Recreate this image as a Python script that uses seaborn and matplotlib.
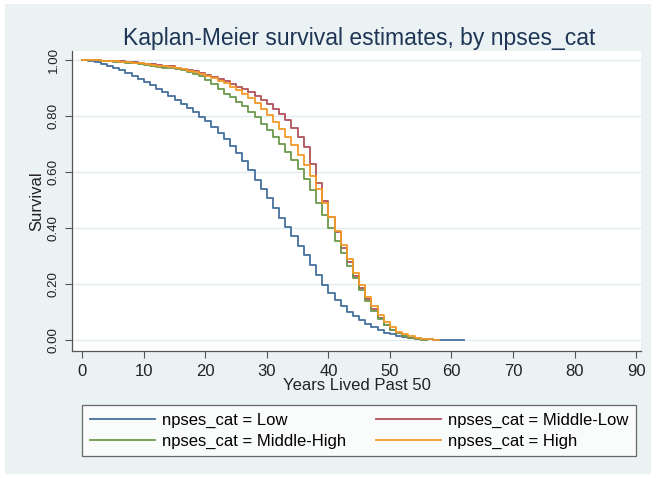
import pandas as pd
import matplotlib
matplotlib.use("Agg")
import matplotlib.pyplot as plt
import seaborn as sns
from matplotlib.patches import Rectangle

# valores (supervivencia al inicio de cada año)
low = [1.000, 0.998, 0.993, 0.987, 0.980, 0.972, 0.963, 0.954, 0.944, 0.933,
       0.921, 0.910, 0.898, 0.885, 0.872, 0.858, 0.844, 0.829, 0.814, 0.798,
       0.781, 0.762, 0.741, 0.718, 0.693, 0.667, 0.638, 0.606, 0.573, 0.540,
       0.506, 0.472, 0.437, 0.402, 0.370, 0.337, 0.302, 0.267, 0.232, 0.198,
       0.168, 0.142, 0.120, 0.100, 0.085, 0.070, 0.056, 0.045, 0.035, 0.027,
       0.020, 0.015, 0.011, 0.008, 0.006, 0.004, 0.003, 0.002, 0.0015, 0.001,
       0.001, 0.0005, 0.000]
middle_low = [1.000, 1.000, 0.999, 0.998, 0.997, 0.996, 0.995, 0.993, 0.991, 0.989,
              0.987, 0.985, 0.983, 0.980, 0.977, 0.973, 0.969, 0.965, 0.960, 0.954,
              0.947, 0.940, 0.932, 0.924, 0.915, 0.905, 0.895, 0.884, 0.872, 0.858,
              0.843, 0.826, 0.806, 0.784, 0.757, 0.726, 0.690, 0.630, 0.560, 0.495,
              0.440, 0.385, 0.330, 0.280, 0.230, 0.185, 0.145, 0.110, 0.080, 0.055,
              0.037, 0.024, 0.015, 0.008, 0.004, 0.002, 0.000]
middle_high = [1.000, 1.000, 0.999, 0.998, 0.996, 0.994, 0.992, 0.990, 0.988, 0.985,
               0.982, 0.979, 0.976, 0.973, 0.970, 0.967, 0.963, 0.958, 0.951, 0.942,
               0.930, 0.915, 0.897, 0.880, 0.866, 0.851, 0.836, 0.816, 0.795, 0.773,
               0.750, 0.726, 0.700, 0.672, 0.642, 0.610, 0.575, 0.535, 0.490, 0.445,
               0.400, 0.355, 0.310, 0.265, 0.220, 0.180, 0.140, 0.105, 0.077, 0.055,
               0.037, 0.024, 0.015, 0.009, 0.005, 0.002, 0.000]
high = [1.000, 1.000, 0.999, 0.998, 0.997, 0.996, 0.994, 0.992, 0.990, 0.988,
        0.986, 0.983, 0.980, 0.977, 0.974, 0.970, 0.966, 0.961, 0.956, 0.950,
        0.943, 0.935, 0.926, 0.916, 0.905, 0.893, 0.879, 0.863, 0.845, 0.825,
        0.803, 0.779, 0.753, 0.725, 0.695, 0.662, 0.626, 0.585, 0.540, 0.490,
        0.440, 0.390, 0.340, 0.290, 0.240, 0.195, 0.155, 0.120, 0.090, 0.065,
        0.045, 0.030, 0.020, 0.013, 0.008, 0.005, 0.003, 0.001, 0.000]

grupos = ["Low", "Middle-Low", "Middle-High", "High"]
series = [low, middle_low, middle_high, high]
colores = ["#44709d", "#b0505b", "#6b9a4c", "#f39a28"]
x_ticks = list(range(0, 91, 10))
y_ticks = [0, 0.2, 0.4, 0.6, 0.8, 1.0]

filas = []
for g, s in zip(grupos, series):
    for t, v in enumerate(s):
        filas.append({"years": t, "survival": v, "grupo": "npses_cat = " + g})
datos = pd.DataFrame(filas)
orden = ["npses_cat = " + g for g in grupos]

plt.rcParams["font.family"] = ["Liberation Sans", "DejaVu Sans"]

fig = plt.figure(figsize=(6.56, 4.78), dpi=100)
fig.patch.set_facecolor("white")
fig.patches.append(Rectangle((5 / 656, 4 / 478), 646 / 656, 470 / 478,
                             transform=fig.transFigure, facecolor="#eaf2f3",
                             edgecolor="none", zorder=-10))
ax = fig.add_axes([72 / 656, 127 / 478, 569 / 656, 300 / 478])
ax.set_facecolor("white")

sns.lineplot(data=datos, x="years", y="survival", hue="grupo", hue_order=orden,
             palette=colores, drawstyle="steps-post", estimator=None,
             linewidth=1.3, ax=ax, legend=False)

ax.set_xlim(-1.67, 90.8)
ax.set_ylim(-0.039, 1.032)
ax.set_xticks(x_ticks)
ax.set_yticks(y_ticks)
ax.set_yticklabels(["%.2f" % v for v in y_ticks], rotation=90, va="center")
ax.grid(axis="y", color="#e1ecf0", linewidth=1)
ax.set_axisbelow(True)
for lado in ["top", "right"]:
    ax.spines[lado].set_visible(False)
for lado in ["left", "bottom"]:
    ax.spines[lado].set_color("#555555")
    ax.spines[lado].set_linewidth(0.9)
ax.tick_params(direction="out", length=5, width=0.8, color="#555555",
               labelcolor="#222222")
ax.tick_params(axis="x", labelsize=12, pad=4)
ax.tick_params(axis="y", labelsize=9.6, pad=4)

ax.set_xlabel("Years Lived Past 50", fontsize=12, color="#222222", labelpad=0)
ax.set_ylabel("Survival", fontsize=12, color="#222222", labelpad=2)
fig.text(359 / 656, 1 - 45 / 478, "Kaplan-Meier survival estimates, by npses_cat",
         ha="center", va="baseline", fontsize=16.5, color="#1f3556")

# orden para que la leyenda se lea por filas
lineas = ax.get_lines()[:4]
idx = [0, 2, 1, 3]
leg = fig.legend([lineas[i] for i in idx], [orden[i] for i in idx],
                 loc="upper left", ncol=2, mode="expand", borderaxespad=0,
                 bbox_to_anchor=(82 / 656, 1 - 468 / 478, 554 / 656, 63 / 478),
                 frameon=True, fancybox=False, fontsize=12,
                 handlelength=3.9, handletextpad=0.45, borderpad=0.45,
                 labelspacing=0.35)
leg.get_frame().set_edgecolor("#444444")
leg.get_frame().set_linewidth(0.9)

fig.savefig("out.png", dpi=100, facecolor=fig.get_facecolor())
